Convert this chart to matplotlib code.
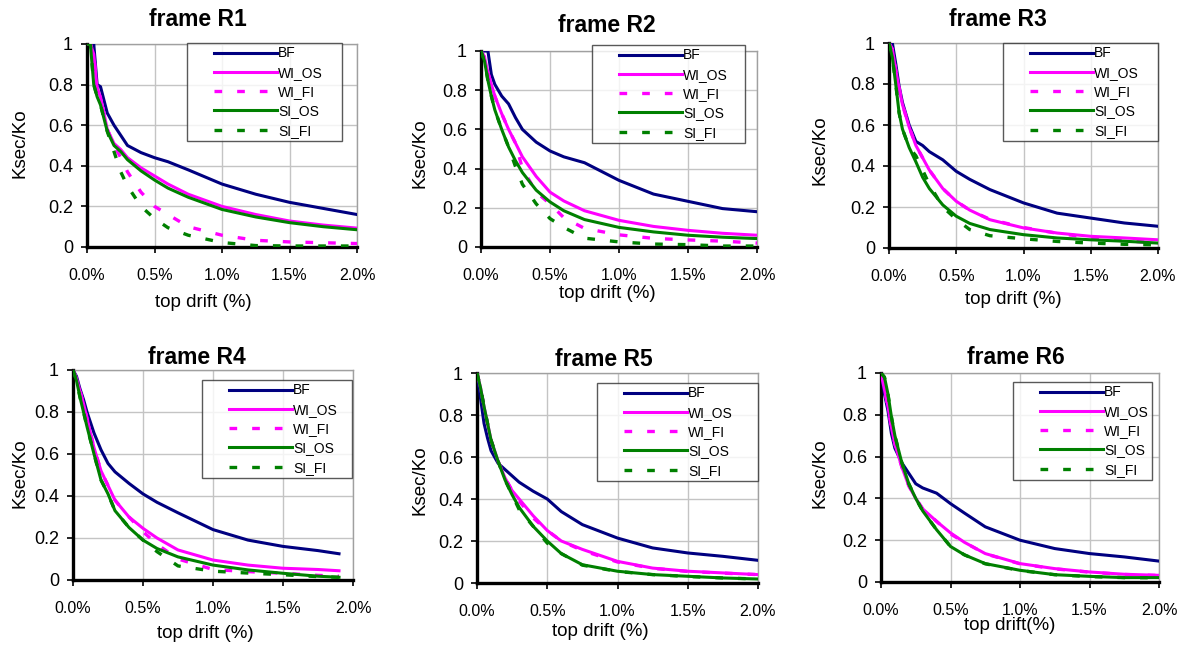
import numpy as np
import matplotlib.pyplot as plt
from matplotlib.ticker import FixedLocator
from matplotlib.legend_handler import HandlerLine2D

plt.rcParams['font.family'] = ['Liberation Sans', 'DejaVu Sans']

W, H = 1186, 645

# drift grid (top drift in %)
drift = [0, 0.025, 0.05, 0.075, 0.1, 0.15, 0.2, 0.25, 0.3, 0.4, 0.5, 0.6, 0.75, 1.0, 1.25, 1.5, 1.75, 2.0]
drift_r4 = [0, 0.025, 0.05, 0.075, 0.1, 0.15, 0.2, 0.25, 0.3, 0.4, 0.5, 0.6, 0.75, 1.0, 1.25, 1.5, 1.75, 1.9]

series_names = ["BF", "WI_OS", "WI_FI", "SI_OS", "SI_FI"]

# frame R1
r1_bf = [1, 1, 1, 0.8, 0.79, 0.66, 0.6, 0.55, 0.5, 0.465, 0.44, 0.42, 0.38, 0.31, 0.26, 0.22, 0.19, 0.16]
r1_wi_os = [1, 1, 0.95, 0.78, 0.74, 0.58, 0.51, 0.48, 0.44, 0.39, 0.35, 0.31, 0.26, 0.2, 0.16, 0.128, 0.108, 0.093]
r1_wi_fi = [1, 1, 0.95, 0.78, 0.74, 0.58, 0.5, 0.44, 0.37, 0.27, 0.2, 0.16, 0.1, 0.058, 0.033, 0.025, 0.021, 0.017]
r1_si_os = [1, 1, 0.8, 0.74, 0.7, 0.57, 0.5, 0.47, 0.43, 0.375, 0.33, 0.29, 0.245, 0.185, 0.148, 0.12, 0.1, 0.085]
r1_si_fi = [1, 1, 0.8, 0.74, 0.7, 0.57, 0.47, 0.37, 0.3, 0.2, 0.14, 0.095, 0.058, 0.022, 0.007, 0.005, 0.005, 0.005]

# frame R2
r2_bf = [1, 1, 1, 0.88, 0.83, 0.77, 0.73, 0.66, 0.6, 0.535, 0.49, 0.46, 0.43, 0.34, 0.27, 0.233, 0.196, 0.18]
r2_wi_os = [1, 0.97, 0.89, 0.83, 0.77, 0.68, 0.6, 0.53, 0.46, 0.36, 0.28, 0.235, 0.185, 0.136, 0.105, 0.085, 0.07, 0.06]
r2_wi_fi = [1, 0.97, 0.89, 0.83, 0.77, 0.68, 0.6, 0.53, 0.4, 0.28, 0.22, 0.15, 0.095, 0.062, 0.044, 0.036, 0.03, 0.02]
r2_si_os = [1, 0.95, 0.85, 0.77, 0.7, 0.6, 0.51, 0.44, 0.38, 0.29, 0.23, 0.185, 0.14, 0.1, 0.077, 0.06, 0.05, 0.043]
r2_si_fi = [1, 0.95, 0.85, 0.77, 0.7, 0.6, 0.51, 0.41, 0.32, 0.22, 0.145, 0.1, 0.045, 0.026, 0.015, 0.012, 0.005, 0.005]

# frame R3
r3_bf = [1, 1, 0.9, 0.79, 0.71, 0.6, 0.52, 0.5, 0.47, 0.43, 0.374, 0.335, 0.285, 0.22, 0.17, 0.146, 0.122, 0.106]
r3_wi_os = [1, 0.97, 0.87, 0.78, 0.7, 0.59, 0.5, 0.44, 0.38, 0.29, 0.228, 0.185, 0.138, 0.098, 0.073, 0.057, 0.049, 0.04]
r3_wi_fi = [1, 0.97, 0.87, 0.78, 0.7, 0.59, 0.5, 0.44, 0.38, 0.29, 0.228, 0.185, 0.14, 0.1, 0.072, 0.05, 0.035, 0.025]
r3_si_os = [1, 0.93, 0.8, 0.66, 0.58, 0.49, 0.42, 0.345, 0.29, 0.21, 0.155, 0.12, 0.09, 0.065, 0.049, 0.04, 0.033, 0.024]
r3_si_fi = [1, 0.93, 0.8, 0.66, 0.58, 0.49, 0.45, 0.38, 0.31, 0.2, 0.14, 0.09, 0.06, 0.045, 0.032, 0.024, 0.018, 0.015]

# frame R4 (ends at 1.9 %)
r4_bf = [1, 0.97, 0.91, 0.86, 0.8, 0.7, 0.62, 0.555, 0.515, 0.46, 0.41, 0.37, 0.32, 0.24, 0.19, 0.16, 0.14, 0.125]
r4_wi_os = [1, 0.96, 0.9, 0.84, 0.77, 0.63, 0.52, 0.45, 0.38, 0.3, 0.246, 0.2, 0.143, 0.095, 0.071, 0.056, 0.05, 0.044]
r4_wi_fi = [1, 0.96, 0.9, 0.84, 0.77, 0.63, 0.52, 0.45, 0.38, 0.3, 0.23, 0.17, 0.1, 0.05, 0.04, 0.032, 0.022, 0.018]
r4_si_os = [1, 0.95, 0.87, 0.8, 0.73, 0.6, 0.476, 0.41, 0.33, 0.25, 0.19, 0.15, 0.11, 0.071, 0.048, 0.032, 0.018, 0.013]
r4_si_fi = [1, 0.95, 0.87, 0.8, 0.73, 0.6, 0.476, 0.41, 0.33, 0.25, 0.19, 0.135, 0.067, 0.042, 0.033, 0.025, 0.016, 0.013]

# frame R5
r5_bf = [1, 0.88, 0.76, 0.69, 0.63, 0.57, 0.54, 0.51, 0.48, 0.437, 0.4, 0.34, 0.278, 0.214, 0.167, 0.143, 0.127, 0.108]
r5_wi_os = [1, 0.93, 0.84, 0.76, 0.68, 0.58, 0.5, 0.44, 0.4, 0.32, 0.25, 0.2, 0.16, 0.103, 0.071, 0.056, 0.048, 0.04]
r5_wi_fi = [1, 0.93, 0.84, 0.76, 0.68, 0.58, 0.5, 0.44, 0.39, 0.31, 0.25, 0.2, 0.155, 0.1, 0.07, 0.055, 0.047, 0.04]
r5_si_os = [1, 0.93, 0.84, 0.76, 0.68, 0.58, 0.49, 0.42, 0.36, 0.27, 0.2, 0.14, 0.087, 0.056, 0.04, 0.032, 0.024, 0.019]
r5_si_fi = [1, 0.93, 0.84, 0.76, 0.68, 0.58, 0.49, 0.42, 0.35, 0.27, 0.19, 0.14, 0.085, 0.055, 0.04, 0.031, 0.024, 0.019]

# frame R6
r6_bf = [1, 0.9, 0.82, 0.71, 0.64, 0.57, 0.52, 0.47, 0.45, 0.425, 0.375, 0.33, 0.264, 0.2, 0.16, 0.136, 0.12, 0.1]
r6_wi_os = [1, 0.92, 0.84, 0.74, 0.66, 0.55, 0.46, 0.4, 0.35, 0.29, 0.235, 0.19, 0.136, 0.088, 0.064, 0.048, 0.037, 0.032]
r6_wi_fi = [1, 0.92, 0.84, 0.74, 0.66, 0.55, 0.46, 0.4, 0.35, 0.29, 0.23, 0.19, 0.135, 0.087, 0.063, 0.047, 0.036, 0.031]
r6_si_os = [1, 0.98, 0.9, 0.79, 0.7, 0.57, 0.47, 0.4, 0.34, 0.25, 0.17, 0.13, 0.088, 0.056, 0.035, 0.027, 0.021, 0.021]
r6_si_fi = [1, 0.98, 0.9, 0.79, 0.7, 0.57, 0.47, 0.4, 0.34, 0.25, 0.17, 0.13, 0.087, 0.055, 0.035, 0.026, 0.021, 0.02]

titles = ["frame R1", "frame R2", "frame R3", "frame R4", "frame R5", "frame R6"]
xlabels = ["top drift (%)"] * 5 + ["top drift(%)"]
xgrids = [drift, drift, drift, drift_r4, drift, drift]
frames = [
    [r1_bf, r1_wi_os, r1_wi_fi, r1_si_os, r1_si_fi],
    [r2_bf, r2_wi_os, r2_wi_fi, r2_si_os, r2_si_fi],
    [r3_bf, r3_wi_os, r3_wi_fi, r3_si_os, r3_si_fi],
    [r4_bf, r4_wi_os, r4_wi_fi, r4_si_os, r4_si_fi],
    [r5_bf, r5_wi_os, r5_wi_fi, r5_si_os, r5_si_fi],
    [r6_bf, r6_wi_os, r6_wi_fi, r6_si_os, r6_si_fi],
]

colors = ["#000080", "#ff00ff", "#ff00ff", "#008000", "#008000"]
dashed = [False, False, True, False, True]

# layout in pixels: plot box (left, top, right, bottom), legend box (left, top, right, bottom)
boxes = [(87, 44, 357, 247), (481, 51, 757, 247), (889, 43, 1158, 248),
         (73, 370, 353, 580), (477, 373, 758, 583), (881, 373, 1159, 582)]
legends = [(187, 43, 342, 143), (592, 45, 745, 137), (1003, 43, 1158, 137),
           (202, 380, 352, 473), (597, 383, 758, 473), (1013, 382, 1152, 472)]
title_pos = [(198, 20), (607, 25), (998, 20), (197, 358), (604, 360), (1016, 358)]
ylab_pos = [(20, 143), (420, 153), (820, 150), (20, 473), (420, 480), (820, 473)]
xlab_pos = [(203, 302), (607, 293), (1013, 300), (205, 633), (600, 632), (1010, 626)]


class IndentedLine(HandlerLine2D):
    # legend line that starts a bit to the right of the box edge
    indent = 17

    def create_artists(self, legend, orig_handle, xdescent, ydescent, width, height, fontsize, trans):
        return super().create_artists(legend, orig_handle, xdescent - self.indent, ydescent,
                                      width - self.indent, height, fontsize, trans)


def fx(x):
    return x / W


def fy(y):
    return 1 - y / H


fig = plt.figure(figsize=(W / 100, H / 100), dpi=100)

for i in range(6):
    l, t, r, b = boxes[i]
    ax = fig.add_axes([fx(l), fy(b), (r - l) / W, (b - t) / H])
    x = xgrids[i]
    lines = []
    for name, vals, c, d in zip(series_names, frames[i], colors, dashed):
        if d:
            ln, = ax.plot(x, vals, color=c, lw=2.4, dashes=(2.3, 4.5), label=name, zorder=3)
        else:
            ln, = ax.plot(x, vals, color=c, lw=2.2, label=name, zorder=3)
        lines.append(ln)

    ax.set_xlim(0, 2.0)
    ax.set_ylim(0, 1)
    ax.xaxis.set_major_locator(FixedLocator([0, 0.5, 1.0, 1.5, 2.0]))
    ax.yaxis.set_major_locator(FixedLocator([0, 0.2, 0.4, 0.6, 0.8, 1.0]))
    ax.set_xticklabels(["0.0%", "0.5%", "1.0%", "1.5%", "2.0%"], fontsize=11.5)
    ax.set_yticklabels(["0", "0.2", "0.4", "0.6", "0.8", "1"], fontsize=13)
    ax.tick_params(axis="x", direction="out", length=4, width=1.2, pad=11)
    ax.tick_params(axis="y", direction="out", length=4, width=1.2, pad=6)
    ax.grid(True, color="#c4c4c4", lw=1.0)
    ax.set_axisbelow(True)
    for s in ["left", "bottom"]:
        ax.spines[s].set_linewidth(2.4)
        ax.spines[s].set_color("black")
    for s in ["top", "right"]:
        ax.spines[s].set_linewidth(1.0)
        ax.spines[s].set_color("#a0a0a0")

    ll, lt, lr, lb = legends[i]
    bb = (fx(ll), fy(lb), (lr - ll) / W, (lb - lt) / H)
    leg = ax.legend(handles=lines, loc="upper left", bbox_to_anchor=bb,
                    bbox_transform=fig.transFigure, mode="expand", fontsize=10,
                    frameon=True, fancybox=False, handlelength=6.2, handletextpad=0.1,
                    borderpad=0.25, labelspacing=0.38, borderaxespad=0,
                    handler_map={ln: IndentedLine() for ln in lines})
    leg.get_frame().set_edgecolor("#303030")
    leg.get_frame().set_linewidth(1.0)
    leg.set_zorder(5)

    tx, ty = title_pos[i]
    fig.text(fx(tx), fy(ty), titles[i], ha="center", va="center", fontsize=16.5, fontweight="bold")
    yx, yy = ylab_pos[i]
    fig.text(fx(yx), fy(yy), "Ksec/Ko", ha="center", va="center", rotation=90, fontsize=13.5)
    xx, xy = xlab_pos[i]
    fig.text(fx(xx), fy(xy), xlabels[i], ha="center", va="center", fontsize=13.5)

fig.savefig("out.png", dpi=100)
